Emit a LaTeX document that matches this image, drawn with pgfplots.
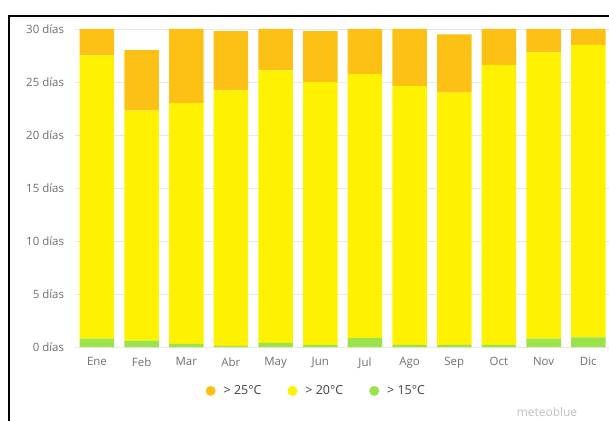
\documentclass[border=0pt]{standalone}
\usepackage{pgfplots}
\pgfplotsset{compat=1.18}
\usepackage{fontspec}
\setmainfont{Open Sans}
\definecolor{c25}{HTML}{FCC114}
\definecolor{c20}{HTML}{FFF200}
\definecolor{c15}{HTML}{9BE34B}
\definecolor{tick}{HTML}{6E6E6E}
\begin{document}
\begin{tikzpicture}[x=1bp,y=1bp]
\useasboundingbox (0,0) rectangle (609,420);
\draw[line width=1.5bp] (9,-1) -- (9,404) -- (610,404);
\begin{axis}[
  at={(74.6bp,73bp)}, anchor=south west,
  scale only axis, width=536bp, height=318bp,
  ybar stacked, bar width=34.5bp,
  xmin=-0.5, xmax=11.5, ymin=0, ymax=30,
  xtick={0,...,11},
  xticklabels={Ene,Feb,Mar,Abr,May,Jun,Jul,Ago,Sep,Oct,Nov,Dic},
  ytick={0,5,10,15,20,25,30},
  yticklabels={0 días,5 días,10 días,15 días,20 días,25 días,30 días},
  ymajorgrids, grid style={gray!18, line width=0.8bp},
  axis line style={draw=none}, tick style={draw=none},
  tick label style={font=\fontsize{11.5}{13}\selectfont, text=tick},
  yticklabel style={xshift=-7bp},
  xticklabel style={yshift=-7bp},
  legend style={at={(0.451,-0.138)}, anchor=center, draw=none, fill=none,
    legend columns=3, font=\fontsize{12.5}{14}\selectfont,
    text=black!75,
    /tikz/every odd column/.append style={column sep=6bp},
    /tikz/every even column/.append style={column sep=24bp}},
  reverse legend,
]
\addplot[fill=c15, draw=none, legend image code/.code={\fill[c15] (5bp,0) circle (5bp);}] coordinates {
(0,0.8) (1,0.6) (2,0.3) (3,0.1) (4,0.4) (5,0.2) (6,0.85) (7,0.2) (8,0.2) (9,0.2) (10,0.8) (11,0.9)};
\addlegendentry{> 15°C}
\addplot[fill=c20, draw=none, legend image code/.code={\fill[c20] (5bp,0) circle (5bp);}] coordinates {
(0,26.7) (1,21.7) (2,22.7) (3,24.1) (4,25.7) (5,24.8) (6,24.9) (7,24.4) (8,23.8) (9,26.4) (10,27.0) (11,27.6)};
\addlegendentry{> 20°C}
\addplot[fill=c25, draw=none, legend image code/.code={\fill[c25] (5bp,0) circle (5bp);}] coordinates {
(0,2.5) (1,5.7) (2,7.0) (3,5.6) (4,3.9) (5,4.8) (6,4.25) (7,5.4) (8,5.5) (9,3.4) (10,2.2) (11,1.5)};
\addlegendentry{> 25°C}
\end{axis}
\node[text=gray!50, font=\fontsize{12}{13}\selectfont] at (547,8) {meteoblue};
\end{tikzpicture}
\end{document}
